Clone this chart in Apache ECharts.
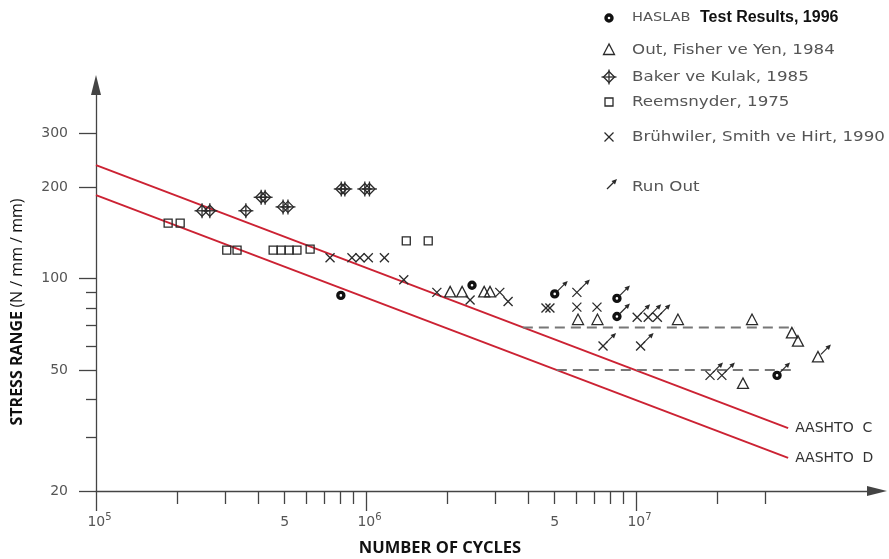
<!DOCTYPE html>
<html><head><meta charset="utf-8">
<script src="https://cdn.jsdelivr.net/npm/echarts@6/dist/echarts.min.js"></script>
<style>html,body{margin:0;padding:0;background:#fff}#c{width:889px;height:559px}</style>
</head><body><div id="c"></div>
<script>
// ---- axis ticks / labels ----
const xMajorTicks = [1e5, 1e6, 1e7];
const xMinorTicks = [2e5,3e5,4e5,5e5,6e5,7e5,8e5,9e5,2e6,3e6,4e6,5e6,6e6,7e6,8e6,9e6,2e7,3e7];
const xLabelValues = [1e5, 5e5, 1e6, 5e6, 1e7];
const xLabelMain = ['10', '5', '10', '5', '10'];
const xLabelSup = ['5', '', '6', '', '7'];
const yMajorTicks = [20, 50, 100, 200, 300];
const yMinorTicks = [30, 40, 60, 70, 80, 90];
const yLabelValues = [20, 50, 100, 200, 300];
const xMin = 1e5, xMax = 7.81e7, yMin = 20, yMax = 433;

// ---- data: [cycles, stress range, run-out flag] ----
const haslab = [[8.07e5,88,0],[2.47e6,95,0],[5.0e6,89,1],[8.5e6,86,1],[8.5e6,75,1],[3.33e7,48,1]];
const outFisher = [[2.05e6,90,0],[2.27e6,90,0],[2.74e6,90,0],[2.88e6,90,0],[6.1e6,73,0],[7.2e6,73,0],
  [1.43e7,73,0],[2.69e7,73,0],[3.78e7,66,0],[3.98e7,62,0],[2.49e7,45,0],[4.72e7,55,1]];
const baker = [[2.47e5,167,0],[2.64e5,167,0],[3.59e5,167,0],[4.09e5,185,0],[4.23e5,185,0],[4.93e5,172,0],
  [5.14e5,172,0],[8.1e5,197,0],[8.35e5,197,0],[0.99e6,197,0],[1.03e6,197,0]];
const reemsnyder = [[1.85e5,152,0],[2.05e5,152,0],[3.05e5,124,0],[3.33e5,124,0],[4.53e5,124,0],[4.85e5,124,0],
  [5.19e5,124,0],[5.55e5,124,0],[6.21e5,125,0],[1.41e6,133,0],[1.70e6,133,0]];
const bruhwiler = [[7.36e5,117,0],[8.87e5,117,0],[9.5e5,117,0],[1.02e6,117,0],[1.17e6,117,0],[1.38e6,99,0],
  [1.83e6,90,0],[2.43e6,85,0],[3.13e6,90,0],[3.36e6,84,0],[4.64e6,80,0],[4.8e6,80,0],[6.04e6,90,1],
  [6.04e6,80.5,0],[7.17e6,80.5,0],[7.55e6,60,1],[1.01e7,74.6,1],[1.11e7,74.6,1],[1.2e7,74.6,1],
  [1.04e7,60,1],[1.88e7,48,1],[2.08e7,48,1]];
const aashtoC = [[1e5,236],[3.66e7,32.2]];
const aashtoD = [[1e5,188],[3.66e7,25.7]];
const caflC = [[3.81e6,69],[3.88e7,69]];
const caflD = [[5.09e6,50],[3.88e7,50]];
const legendLabels = ['HASLAB', 'Test Results, 1996', 'Out, Fisher ve Yen, 1984', 'Baker ve Kulak, 1985',
  'Reemsnyder, 1975', 'Brühwiler, Smith ve Hirt, 1990', 'Run Out'];
const lineLabels = ['AASHTO  C', 'AASHTO  D'];

const INK = '#2a2a2a';
function marker(kind, x, y) {
  const st = {stroke: INK, lineWidth: 1.3, fill: 'none'};
  switch (kind) {
    case 'ring': return [{type:'circle', shape:{cx:x, cy:y, r:3}, style:{stroke:'#111', lineWidth:3.4, fill:'#fff'}}];
    case 'tri': return [{type:'polygon', shape:{points:[[x,y-6],[x-5.5,y+4.5],[x+5.5,y+4.5]]}, style:st}];
    case 'baker': return [
      {type:'polygon', shape:{points:[[x,y-5.5],[x+5.5,y],[x,y+5.5],[x-5.5,y]]}, style:st},
      {type:'line', shape:{x1:x-7.5,y1:y,x2:x+7.5,y2:y}, style:st},
      {type:'line', shape:{x1:x,y1:y-7.5,x2:x,y2:y+7.5}, style:st}];
    case 'square': return [{type:'rect', shape:{x:x-4,y:y-4,width:8,height:8}, style:st}];
    case 'x': return [
      {type:'line', shape:{x1:x-4.5,y1:y-4.5,x2:x+4.5,y2:y+4.5}, style:st},
      {type:'line', shape:{x1:x-4.5,y1:y+4.5,x2:x+4.5,y2:y-4.5}, style:st}];
  }
  return [];
}
function arrow(x, y) {
  return [
    {type:'line', shape:{x1:x+3,y1:y-3,x2:x+11,y2:y-11}, style:{stroke:INK, lineWidth:1.2}},
    {type:'polygon', shape:{points:[[x+13,y-13],[x+7.5,y-11],[x+11,y-7.5]]}, style:{fill:INK}}];
}
function pointSeries(name, data, kind) {
  return {
    type:'custom', name, data, encode:{x:0, y:1}, clip:false, silent:true, z:5,
    renderItem: function (params, api) {
      const p = api.coord([api.value(0), api.value(1)]);
      let children = marker(kind, p[0], p[1]);
      if (api.value(2)) children = children.concat(arrow(p[0], p[1]));
      return {type:'group', children};
    }
  };
}
function near(a, b) { return Math.abs(a - b) / b < 1e-6; }

const axisColor = '#444';
const chart = echarts.init(document.getElementById('c'), null, {renderer:'canvas'});

const legendY = [18, 50, 77, 102, 137, 187];
const legendKinds = ['ring', 'tri', 'baker', 'square', 'x'];
const graphics = [];
legendKinds.forEach((k, i) => marker(k, 609, legendY[i]).forEach(g => graphics.push(g)));
arrow(604, legendY[5] + 5).forEach(g => graphics.push(g));
const legFont = '14.5px "DejaVu Sans"';
graphics.push({type:'text', x:632, y:legendY[0], scaleX:1.12, style:{text:legendLabels[0], font:'13px "DejaVu Sans"', fill:'#555', verticalAlign:'middle'}});
graphics.push({type:'text', x:700, y:legendY[0], style:{text:legendLabels[1], font:'bold 16px "Liberation Sans"', fill:'#111', verticalAlign:'middle'}});
for (let i = 2; i < legendLabels.length; i++) {
  graphics.push({type:'text', x:632, y:legendY[i-1], scaleX:1.15, style:{text:legendLabels[i], font:legFont, fill:'#555', verticalAlign:'middle'}});
}
graphics.push({type:'text', x:17, y:312, rotation:Math.PI/2,
  style:{text:'{b|STRESS RANGE} {n|(N / mm / mm)}', align:'center', verticalAlign:'middle',
    rich:{b:{font:'bold 16px "Open Sans"', fill:'#111'}, n:{font:'16px "Open Sans"', fill:'#111'}}}});
graphics.push({type:'text', x:440, y:548, style:{text:'NUMBER OF CYCLES', font:'bold 16.5px "Open Sans"', fill:'#111', align:'center', verticalAlign:'middle'}});

const tickStyle = {color: axisColor, width: 1.3};
const option = {
  animation: false,
  backgroundColor: '#fff',
  grid: {left: 96, right: 12, top: 85, bottom: 68, containLabel: false},
  xAxis: [
    {type:'log', min:xMin, max:xMax, position:'bottom',
     axisLine:{show:true, onZero:false, symbol:['none','triangle'], symbolSize:[10,20], lineStyle:{color:axisColor, width:1.3}},
     axisTick:{show:true, customValues:xMajorTicks, length:20, lineStyle:tickStyle},
     minorTick:{show:false}, splitLine:{show:false},
     axisLabel:{show:true, customValues:xLabelValues, margin:21, color:'#555',
       formatter: function (v) {
         const i = xLabelValues.findIndex(t => near(v, t));
         if (i < 0) return '';
         if (xLabelSup[i]) return '{p|}{b|' + xLabelMain[i] + '}{s|' + xLabelSup[i] + '}';
         return '{b|' + xLabelMain[i] + '}';
       },
       rich:{p:{width:7}, b:{fontSize:14, fontFamily:'DejaVu Sans', color:'#555', lineHeight:20, verticalAlign:'middle'},
             s:{fontSize:10, fontFamily:'DejaVu Sans', color:'#555', lineHeight:10, verticalAlign:'top'}}}},
    {type:'log', min:xMin, max:xMax, position:'bottom',
     axisLine:{show:false}, axisTick:{show:true, customValues:xMinorTicks, length:13, lineStyle:tickStyle},
     axisLabel:{show:false}, splitLine:{show:false}, minorTick:{show:false}}
  ],
  yAxis: [
    {type:'log', min:yMin, max:yMax, position:'left',
     axisLine:{show:true, onZero:false, symbol:['none','triangle'], symbolSize:[10,20], lineStyle:{color:axisColor, width:1.3}},
     axisTick:{show:true, customValues:yMajorTicks, length:17, lineStyle:tickStyle},
     minorTick:{show:false}, splitLine:{show:false},
     axisLabel:{show:true, customValues:yLabelValues, margin:28, color:'#555', fontSize:14, fontFamily:'DejaVu Sans',
       formatter: v => String(Math.round(v))}},
    {type:'log', min:yMin, max:yMax, position:'left',
     axisLine:{show:false}, axisTick:{show:true, customValues:yMinorTicks, length:10, lineStyle:tickStyle},
     axisLabel:{show:false}, splitLine:{show:false}, minorTick:{show:false}}
  ],
  graphic: graphics,
  series: [
    {type:'line', data:aashtoC, symbol:'none', silent:true, lineStyle:{color:'#cc2233', width:2},
     endLabel:{show:true, formatter:lineLabels[0], color:'#333', fontSize:14, fontFamily:'DejaVu Sans', distance:7}},
    {type:'line', data:aashtoD, symbol:'none', silent:true, lineStyle:{color:'#cc2233', width:2},
     endLabel:{show:true, formatter:lineLabels[1], color:'#333', fontSize:14, fontFamily:'DejaVu Sans', distance:7}},
    {type:'line', data:caflC, symbol:'none', silent:true, lineStyle:{color:'#777', width:2, type:[10,6]}},
    {type:'line', data:caflD, symbol:'none', silent:true, lineStyle:{color:'#777', width:2, type:[10,6]}},
    pointSeries('Reemsnyder, 1975', reemsnyder, 'square'),
    pointSeries('Baker ve Kulak, 1985', baker, 'baker'),
    pointSeries('Out, Fisher ve Yen, 1984', outFisher, 'tri'),
    pointSeries('Brühwiler, Smith ve Hirt, 1990', bruhwiler, 'x'),
    pointSeries('HASLAB Test Results, 1996', haslab, 'ring')
  ]
};
chart.setOption(option);
</script>
</body></html>
